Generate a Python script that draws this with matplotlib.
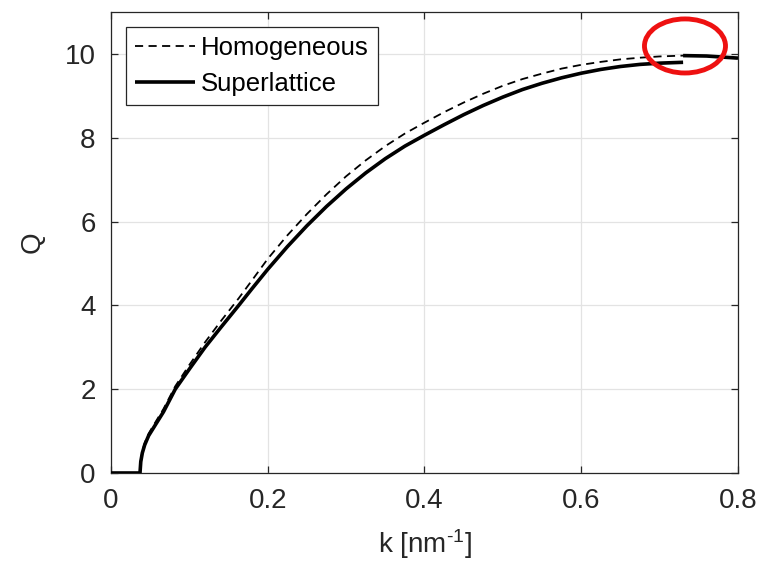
import numpy as np
from matplotlib import pyplot as plt
from matplotlib.patches import Ellipse

plt.rcParams['font.family'] = ['Liberation Sans', 'DejaVu Sans']
plt.rcParams['mathtext.fontset'] = 'custom'
plt.rcParams['mathtext.rm'] = 'Liberation Sans'
plt.rcParams['mathtext.it'] = 'Liberation Sans'

# wavenumber samples and quality factor for both structures
k = [0, 0.037, 0.038, 0.040, 0.043, 0.048, 0.054, 0.067, 0.082, 0.10, 0.12,
     0.14, 0.163, 0.18, 0.20, 0.225, 0.25, 0.275, 0.30, 0.325, 0.35, 0.375,
     0.40, 0.425, 0.45, 0.475, 0.50, 0.525, 0.55, 0.575, 0.60, 0.625, 0.65,
     0.675, 0.70, 0.73, 0.76, 0.80]
q_homog = [0, 0, 0.30, 0.52, 0.72, 0.94, 1.13, 1.53, 2.07, 2.58, 3.12,
           3.62, 4.17, 4.60, 5.11, 5.67, 6.18, 6.65, 7.08, 7.46, 7.80, 8.10,
           8.36, 8.61, 8.84, 9.05, 9.24, 9.40, 9.53, 9.65, 9.74, 9.81, 9.87,
           9.91, 9.94, 9.96, 9.95, 9.90]

k_super = [0, 0.037, 0.038, 0.040, 0.043, 0.048, 0.054, 0.067, 0.082, 0.10, 0.12,
           0.14, 0.163, 0.18, 0.20, 0.225, 0.25, 0.275, 0.30, 0.325, 0.35, 0.375,
           0.40, 0.425, 0.45, 0.475, 0.50, 0.525, 0.55, 0.575, 0.60, 0.625, 0.65,
           0.675, 0.70, 0.73]
q_super = [0, 0, 0.27, 0.48, 0.67, 0.89, 1.07, 1.46, 2.00, 2.48, 3.00,
           3.47, 4.00, 4.40, 4.86, 5.40, 5.90, 6.36, 6.78, 7.16, 7.50, 7.80,
           8.06, 8.31, 8.55, 8.77, 8.97, 9.15, 9.30, 9.43, 9.54, 9.63, 9.70,
           9.75, 9.78, 9.80]
# second branch of the superlattice past the gap
k_super2 = [0.73, 0.76, 0.80]
q_super2 = [9.96, 9.95, 9.90]

xticks = [0, 0.2, 0.4, 0.6, 0.8]
xticklabels = ['0', '0.2', '0.4', '0.6', '0.8']
yticks = [0, 2, 4, 6, 8, 10]

fig = plt.figure(figsize=(7.8, 5.75), dpi=100)
ax = fig.add_axes([0.1423, 0.1774, 0.8038, 0.8017])

ax.plot(k, q_homog, color='black', lw=1.3, linestyle=(0, (4.5, 3)),
        label='Homogeneous', zorder=3)
ax.plot(k_super, q_super, color='black', lw=2.6, label='Superlattice',
        zorder=4, solid_capstyle='butt')
ax.plot(k_super2, q_super2, color='black', lw=2.6, zorder=4,
        solid_capstyle='butt')

# highlight the band edge region
ax.add_patch(Ellipse((0.7324, 10.19), 0.1034, 1.29, fill=False,
                     edgecolor='#ee1111', lw=3.5, zorder=6, clip_on=False))

ax.set_xlim(0, 0.8)
ax.set_ylim(0, 11)
ax.set_xticks(xticks)
ax.set_xticklabels(xticklabels)
ax.set_yticks(yticks)

ax.grid(True, color='#e3e3e3', lw=0.9)
ax.set_axisbelow(True)
for s in ax.spines.values():
    s.set_color('#262626')
    s.set_linewidth(0.9)
ax.tick_params(direction='in', length=5, width=0.9, colors='#262626',
               labelsize=20, top=True, right=True, pad=11)

ax.set_xlabel(r'k [nm$^{\text{-}1}$]', fontsize=20, color='#262626', labelpad=9)
ax.set_ylabel('Q', fontsize=20, color='#262626', labelpad=14)

leg = ax.legend(loc='upper left', fontsize=18.5, handlelength=2.3,
                fancybox=False, framealpha=1, edgecolor='#262626',
                borderpad=0.35, labelspacing=0.45, handletextpad=0.25,
                borderaxespad=0.6)
leg.get_frame().set_linewidth(0.9)

fig.savefig('out.png', dpi=100)
